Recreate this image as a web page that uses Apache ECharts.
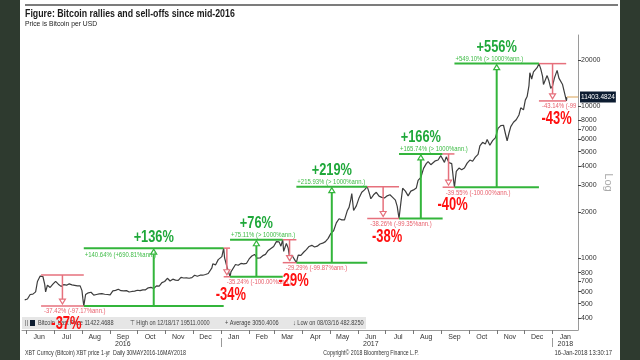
<!DOCTYPE html>
<html><head><meta charset="utf-8">
<script src="https://cdn.jsdelivr.net/npm/echarts@6/dist/echarts.min.js"></script>
<style>
html,body{margin:0;padding:0;background:#2e3a2f;}
#c{width:640px;height:360px;background:linear-gradient(to right,#2e3a2f 0,#2e3a2f 20px,#fff 20px,#fff 620px,#2e3a2f 620px);}
</style>
</head><body><div id="c"></div>
<script>
// ---------- data ----------
const dates = ['2016-05-30','2016-06-02','2016-06-05','2016-06-08','2016-06-11','2016-06-13','2016-06-16','2016-06-17','2016-06-19','2016-06-21','2016-06-22','2016-06-24','2016-06-27','2016-06-30','2016-07-03','2016-07-06','2016-07-09','2016-07-12','2016-07-15','2016-07-18','2016-07-21','2016-07-24','2016-07-27','2016-07-30','2016-08-01','2016-08-02','2016-08-03','2016-08-05','2016-08-08','2016-08-11','2016-08-14','2016-08-17','2016-08-20','2016-08-23','2016-08-26','2016-08-29','2016-09-01','2016-09-04','2016-09-07','2016-09-10','2016-09-13','2016-09-16','2016-09-19','2016-09-22','2016-09-25','2016-09-28','2016-10-01','2016-10-04','2016-10-07','2016-10-10','2016-10-13','2016-10-16','2016-10-19','2016-10-22','2016-10-25','2016-10-28','2016-10-31','2016-11-03','2016-11-06','2016-11-09','2016-11-12','2016-11-15','2016-11-18','2016-11-21','2016-11-24','2016-11-27','2016-11-30','2016-12-03','2016-12-06','2016-12-09','2016-12-12','2016-12-15','2016-12-18','2016-12-20','2016-12-22','2016-12-23','2016-12-26','2016-12-29','2016-12-31','2017-01-02','2017-01-04','2017-01-05','2017-01-07','2017-01-09','2017-01-11','2017-01-12','2017-01-14','2017-01-17','2017-01-20','2017-01-23','2017-01-26','2017-01-29','2017-02-01','2017-02-04','2017-02-07','2017-02-10','2017-02-13','2017-02-16','2017-02-19','2017-02-22','2017-02-25','2017-02-28','2017-03-03','2017-03-06','2017-03-08','2017-03-10','2017-03-11','2017-03-14','2017-03-16','2017-03-18','2017-03-20','2017-03-22','2017-03-25','2017-03-27','2017-03-30','2017-04-02','2017-04-05','2017-04-08','2017-04-11','2017-04-14','2017-04-17','2017-04-20','2017-04-23','2017-04-26','2017-04-29','2017-05-02','2017-05-05','2017-05-08','2017-05-11','2017-05-14','2017-05-17','2017-05-20','2017-05-22','2017-05-24','2017-05-25','2017-05-27','2017-05-30','2017-06-02','2017-06-05','2017-06-08','2017-06-11','2017-06-13','2017-06-15','2017-06-18','2017-06-21','2017-06-24','2017-06-27','2017-06-30','2017-07-03','2017-07-06','2017-07-09','2017-07-12','2017-07-14','2017-07-16','2017-07-18','2017-07-20','2017-07-23','2017-07-26','2017-07-29','2017-08-01','2017-08-04','2017-08-06','2017-08-09','2017-08-12','2017-08-15','2017-08-17','2017-08-20','2017-08-22','2017-08-25','2017-08-28','2017-08-31','2017-09-02','2017-09-04','2017-09-06','2017-09-09','2017-09-12','2017-09-14','2017-09-15','2017-09-17','2017-09-20','2017-09-23','2017-09-26','2017-09-29','2017-10-02','2017-10-05','2017-10-08','2017-10-11','2017-10-13','2017-10-16','2017-10-19','2017-10-21','2017-10-24','2017-10-27','2017-10-30','2017-11-02','2017-11-05','2017-11-08','2017-11-10','2017-11-12','2017-11-14','2017-11-16','2017-11-19','2017-11-22','2017-11-25','2017-11-27','2017-11-29','2017-11-30','2017-12-02','2017-12-04','2017-12-06','2017-12-07','2017-12-09','2017-12-11','2017-12-13','2017-12-15','2017-12-17','2017-12-19','2017-12-21','2017-12-22','2017-12-24','2017-12-26','2017-12-28','2017-12-30','2018-01-01','2018-01-03','2018-01-06','2018-01-08','2018-01-10','2018-01-12','2018-01-14','2018-01-16 06','2018-01-16 18'];
const prices = [530,537,575,578,598,700,760,772,755,670,598,662,640,672,702,672,650,668,662,675,665,660,655,655,610,540,482.8,575,590,595,570,575,580,583,577,575,572,608,612,623,609,607,610,597,602,605,613,610,617,617,636,641,630,655,652,688,700,735,705,725,715,712,745,738,740,735,742,770,758,770,770,778,790,800,860,915,900,975,963,1020,1160,1000,900,905,752,810,820,905,895,920,915,920,985,1030,1055,995,1000,1035,1055,1120,1155,1190,1280,1275,1195,1317,1105,1245,1160,965,1045,1040,931,1045,1040,1090,1135,1190,1210,1180,1195,1235,1250,1280,1345,1450,1510,1700,1810,1780,1780,2040,2150,2440,2650,2050,2200,2480,2700,2800,2942,2700,2450,2600,2700,2550,2500,2480,2560,2600,2500,2400,2180,1816,2300,2870,2750,2560,2750,2800,2880,3230,3380,3880,4170,4300,4100,4050,4350,4400,4700,4826,4250,4620,4230,4170,3250,2917,3700,3900,3800,3900,4200,4400,4320,4600,4800,5450,5750,5600,6000,5500,5900,6150,7100,7400,7450,6600,5880,6600,7300,7800,8100,8700,9700,9900,9400,10900,11500,13500,16500,15000,16700,16400,17800,18934,17500,15600,13800,13900,15800,14600,13000,13500,15200,17100,15200,14900,13800,13600,10766,11403.4824];

const monthNames = ['Jan','Feb','Mar','Apr','May','Jun','Jul','Aug','Sep','Oct','Nov','Dec'];
const axisMonths = ['2016-06','2016-07','2016-08','2016-09','2016-10','2016-11','2016-12','2017-01','2017-02','2017-03','2017-04','2017-05','2017-06','2017-07','2017-08','2017-09','2017-10','2017-11','2017-12','2018-01'];
const yearLabelMonths = ['2016-09','2017-06','2018-01'];
const yearBreaks = ['2017-01-01','2018-01-01'];
const yTicks = [400,500,600,700,800,1000,2000,3000,4000,5000,6000,7000,8000,10000,20000];

const rallyStart = ['2016-08-03','2017-01-11','2017-03-25','2017-07-16','2017-09-15'];
const rallyEnd   = ['2017-01-04','2017-03-10','2017-06-11','2017-09-02','2017-12-17'];
const rallyLow   = [482.8, 752, 931, 1816, 2917];
const rallyHigh  = [1160, 1317, 2942, 4826, 18934];
const rallyTag   = ['+140.64% (+690.81%ann.)','+75.11% (> 1000%ann.)','+215.93% (> 1000%ann.)','+165.74% (> 1000%ann.)','+549.10% (> 1000%ann.)'];
const rallyBig   = ['+136%','+76%','+219%','+166%','+556%'];

const dropStart = ['2016-06-17','2017-01-04','2017-03-10','2017-06-11','2017-09-02','2017-12-17'];
const dropEnd   = ['2016-08-03','2017-01-11','2017-03-25','2017-07-16','2017-09-15','2018-01-16'];
const dropHigh  = [772, 1160, 1317, 2942, 4826, 18934];
const dropLow   = [482.8, 752, 931, 1816, 2917, 10766];
const dropTag   = ['-37.42% (-97.17%ann.)','-35.24% (-100.00%ann.)','-29.29% (-99.87%ann.)','-38.26% (-99.35%ann.)','-39.55% (-100.00%ann.)','-43.14% (-99'];
const dropBig   = ['-37%','-34%','-29%','-38%','-40%','-43%'];

const titleText = 'Figure: Bitcoin rallies and sell-offs since mid-2016';
const subtitleText = 'Price is Bitcoin per USD';
const legendTexts = ['Bitcoin  Last Price 11422.4688','\u22A4 High on 12/18/17 19511.0000','+ Average 3050.4006','\u2193 Low on 08/03/16 482.8250'];
const footerLeft = 'XBT Curncy (Bitcoin) XBT price 1-yr  Daily 30MAY2016-16MAY2018';
const footerMid = 'Copyright\u00A9 2018 Bloomberg Finance L.P.';
const footerRight = '16-Jan-2018 13:30:17';

// ---------- helpers ----------
function ts(s){
  const parts = s.split(' ');
  const d = parts[0].split('-').map(Number);
  const h = parts[1] ? Number(parts[1]) : 0;
  return new Date(d[0], d[1]-1, d[2] || 1, h).getTime();
}
const SANS = "'Liberation Sans',Arial,sans-serif";

const monthStarts = axisMonths.map(m => ts(m + '-01'));
const monthMids = axisMonths.map(m => ts(m + '-15'));
const yearMids = yearLabelMonths.map(m => ts(m + '-15'));
const yearBreakTs = yearBreaks.map(ts);
const X_MIN = ts('2016-05-27'), X_MAX = ts('2018-01-29');

const GREEN = '#33b53b', GREEN_TXT = '#3cbb44', GREEN_BIG = '#1fa83a';
const RED = '#e6707c', RED_TXT = '#e8606c', RED_BIG = '#ff1010';

// condensed text element (scaled horizontally around its anchor)
function ctext(x, y, text, size, color, sx, extra){
  return {type:'text', x: x, y: y, scaleX: sx, scaleY: 1,
    style: Object.assign({text: text, fontSize: size, fill: color, fontFamily: SANS,
      align:'left', verticalAlign:'middle'}, extra || {})};
}

function moveSeries(name, starts, ends, fromV, toV, tags, bigs, isUp){
  const color = isUp ? GREEN : RED;
  return {
    type: 'custom', name: name, z: 5, silent: true,
    data: starts.map((s, i) => [ts(s), ts(ends[i]), fromV[i], toV[i]]),
    encode: {x: [0, 1], y: [2, 3]},
    renderItem: function(params, api){
      const i = params.dataIndex;
      const t0 = api.value(0), t1 = api.value(1), v0 = api.value(2), v1 = api.value(3);
      const a = api.coord([t0, v0]), b = api.coord([t1, v0]);
      const c = api.coord([t0, v1]), d = api.coord([t1, v1]);
      const mx = (a[0] + b[0]) / 2;
      const yFrom = a[1], yTo = c[1];
      const dir = isUp ? -1 : 1;
      const lw = isUp ? 2 : 1.5;
      const hh = 5, hw = 3;
      const tip = isUp ? yTo + 1 : yTo - 2;
      const base = tip - dir * hh;
      const children = [
        {type:'line', shape:{x1:a[0], y1:yFrom, x2:b[0], y2:yFrom}, style:{stroke:color, lineWidth:lw}},
        {type:'line', shape:{x1:c[0], y1:yTo, x2:d[0], y2:yTo}, style:{stroke:color, lineWidth:lw}},
        {type:'line', shape:{x1:mx, y1:yFrom, x2:mx, y2:base}, style:{stroke:color, lineWidth:lw}},
        {type:'polygon', shape:{points:[[mx, tip],[mx-hw, base],[mx+hw, base]]}, style:{fill:'#fff', stroke:color, lineWidth:1.2}}
      ];
      if (isUp) {
        const below = (i === 0);
        children.push(ctext(c[0] + 1, below ? yTo + 3 : yTo - 1, tags[i], 7, GREEN_TXT, 0.85,
          {verticalAlign: below ? 'top' : 'bottom'}));
        children.push(ctext(mx, below ? yTo - 11 : yTo - 16, bigs[i], 16, GREEN_BIG, 0.8,
          {align:'center', fontWeight:'bold'}));
      } else {
        children.push(ctext(c[0] + 3, yTo + 2, tags[i], 7, RED_TXT, 0.85, {verticalAlign:'top'}));
        children.push(ctext(mx + 4, yTo + 18, bigs[i], 19, RED_BIG, 0.68,
          {align:'center', fontWeight:'bold'}));
      }
      return {type:'group', children: children};
    }
  };
}

const chart = echarts.init(document.getElementById('c'), null, {renderer:'canvas'});
const lastIdx = prices.length - 1;

const option = {
  animation: false,
  backgroundColor: 'transparent',
  grid: {left: 22, right: 62, top: 35, bottom: 30},
  xAxis: [{
    type: 'value', min: X_MIN, max: X_MAX, scale: true,
    axisLine: {show: true, lineStyle: {color: '#9a9a9a', width: 1}},
    axisTick: {show: true, customValues: monthStarts, length: 4, lineStyle: {color: '#777'}},
    axisLabel: {customValues: monthMids, margin: 4, fontSize: 7, color: '#333', fontFamily: SANS,
      formatter: v => monthNames[new Date(v).getMonth()]},
    splitLine: {show: false}
  }, {
    type: 'value', min: X_MIN, max: X_MAX, scale: true, position: 'bottom', offset: 8,
    axisLine: {show: false},
    axisTick: {show: true, customValues: yearBreakTs, length: 9, lineStyle: {color: '#999'}},
    axisLabel: {customValues: yearMids, margin: 3, fontSize: 7, color: '#333', fontFamily: SANS,
      formatter: v => String(new Date(v).getFullYear())},
    splitLine: {show: false}
  }],
  yAxis: {
    type: 'log', logBase: 10, min: 336, max: 29200, position: 'right',
    axisLine: {show: true, lineStyle: {color: '#9a9a9a'}},
    axisTick: {show: true, customValues: yTicks, length: 3, lineStyle: {color: '#444'}},
    axisLabel: {customValues: yTicks, margin: 3, fontSize: 7, color: '#333', fontFamily: SANS,
      formatter: v => String(Math.round(v))},
    splitLine: {show: false},
    name: 'Log', nameLocation: 'middle', nameGap: 25, nameRotate: -90, nameMoveOverlap: false,
    nameTextStyle: {color: '#aaaaaa', fontSize: 11, fontFamily: SANS}
  },
  graphic: [
    {type:'line', shape:{x1:25, y1:5, x2:618, y2:5}, style:{stroke:'#505050', lineWidth:1.5}},
    ctext(25, 14, titleText, 11, '#1a1a1a', 0.8, {fontWeight:'bold'}),
    ctext(25, 24, subtitleText, 7.5, '#1a1a1a', 0.9),
    {type:'rect', shape:{x:22, y:317, width:344, height:12}, style:{fill:'#e6e6e6'}, z: 0},
    {type:'rect', shape:{x:25, y:320, width:1, height:6}, style:{fill:'#999'}},
    {type:'rect', shape:{x:27, y:320, width:1, height:6}, style:{fill:'#999'}},
    {type:'rect', shape:{x:30, y:320, width:5, height:6}, style:{fill:'#0c1c30'}},
    ctext(38, 323, legendTexts[0], 7, '#444', 0.8),
    ctext(130, 323, legendTexts[1], 7, '#444', 0.8),
    ctext(225, 323, legendTexts[2], 7, '#444', 0.8),
    ctext(293, 323, legendTexts[3], 7, '#444', 0.8),
    ctext(25, 353, footerLeft, 7, '#333', 0.76),
    ctext(371, 353, footerMid, 7, '#333', 0.74, {align:'center'}),
    ctext(612, 353, footerRight, 7, '#333', 0.84, {align:'right'})
  ],
  series: [
    {
      type: 'line', name: 'Bitcoin', z: 3, silent: true,
      data: dates.map((d, i) => [ts(d), prices[i]]),
      showSymbol: false, symbol: 'none',
      lineStyle: {color: '#3d3d3d', width: 1.2},
      markLine: {
        silent: true, symbol: 'none',
        lineStyle: {color: '#e6c08c', width: 1.5, type: 'solid'},
        label: {show: true, position: 'end', distance: 2, formatter: () => prices[lastIdx].toFixed(4),
          backgroundColor: '#0c1c30', color: '#fff', fontSize: 6.5, fontFamily: SANS, padding: [2, 1]},
        data: [[{coord: [ts(dates[lastIdx]), prices[lastIdx]]}, {coord: [X_MAX, prices[lastIdx]]}]]
      }
    },
    moveSeries('rallies', rallyStart, rallyEnd, rallyLow, rallyHigh, rallyTag, rallyBig, true),
    moveSeries('selloffs', dropStart, dropEnd, dropHigh, dropLow, dropTag, dropBig, false)
  ]
};
chart.setOption(option);
</script>
</body></html>
